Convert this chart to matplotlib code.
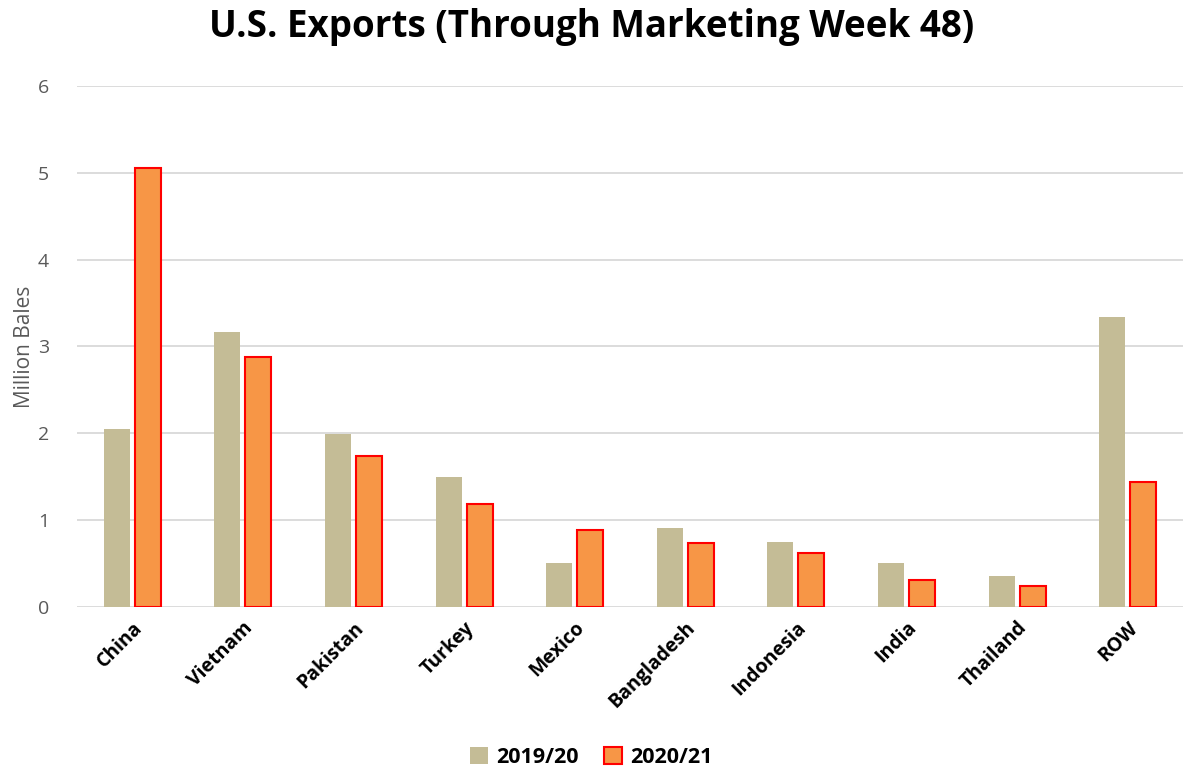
import numpy as np
import matplotlib.pyplot as plt

plt.rcParams['font.family'] = ['Open Sans', 'DejaVu Sans']

countries = ['China', 'Vietnam', 'Pakistan', 'Turkey', 'Mexico',
             'Bangladesh', 'Indonesia', 'India', 'Thailand', 'ROW']
exp_1920 = [2.05, 3.17, 1.99, 1.49, 0.50, 0.91, 0.75, 0.50, 0.36, 3.34]
exp_2021 = [5.05, 2.88, 1.74, 1.18, 0.88, 0.74, 0.62, 0.31, 0.24, 1.44]

TAN = '#C4BC96'
ORANGE = '#F79646'
GRID = '#D9D9D9'

fig = plt.figure(figsize=(11.83, 7.81), dpi=100, facecolor='white')
ax = fig.add_axes([0.065, 0.223, 0.935, 0.667])

x = np.arange(len(countries))
w = 0.235
ax.bar(x - 0.14, exp_1920, w, color=TAN, label='2019/20', zorder=3)
ax.bar(x + 0.14, exp_2021, w, color=ORANGE, edgecolor='#FF0000', lw=1.5,
       label='2020/21', zorder=3)

ax.set_xlim(-0.5, len(countries) - 0.5)
ax.set_ylim(0, 6)
ax.set_yticks(range(7))
ax.yaxis.grid(True, color=GRID, lw=1.3, zorder=0)
ax.set_axisbelow(True)
for s in ax.spines.values():
    s.set_visible(False)
ax.tick_params(axis='y', length=0, labelsize=14, labelcolor='#595959', pad=20)
ax.tick_params(axis='x', length=0, pad=8)
ax.set_xticks(x)
ax.set_xticklabels(countries, rotation=45, ha='right', rotation_mode='anchor',
                   fontsize=14, fontweight='bold')
ax.set_ylabel('Million Bales', fontsize=15, color='#595959', labelpad=2)

fig.suptitle('U.S. Exports (Through Marketing Week 48)', fontsize=26.5,
             fontweight='bold', y=0.99)

leg = fig.legend(loc='lower center', bbox_to_anchor=(0.5, -0.008), ncol=2,
                 frameon=False, fontsize=15.5, handlelength=0.8, handleheight=0.8,
                 handletextpad=0.4, columnspacing=1.2)
for t in leg.get_texts():
    t.set_fontweight('bold')

fig.savefig('out.png', dpi=100, facecolor='white')
